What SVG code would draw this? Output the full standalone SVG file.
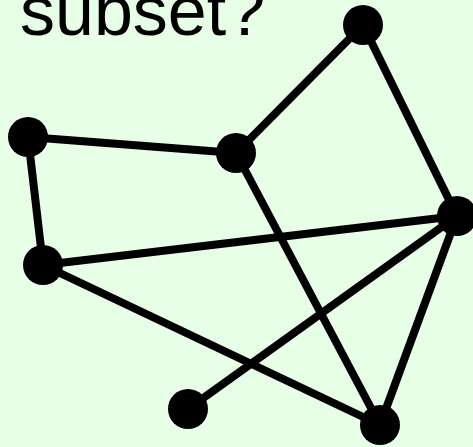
<svg xmlns="http://www.w3.org/2000/svg" width="473" height="447" viewBox="0 0 473 447">
<style>
.e{stroke:#000;stroke-width:8;stroke-linecap:round;fill:none}
.n{fill:#000}
.t{font-family:"Liberation Sans",Arial,sans-serif;font-size:70px;fill:#000}
</style>
<rect width="473" height="447" fill="#e6ffe6"/>
<text class="t" x="20" y="35">subset?</text>
<g id="edges">
<line class="e" x1="28" y1="137" x2="236" y2="153"/>
<line class="e" x1="236" y1="153" x2="363" y2="25"/>
<line class="e" x1="363" y1="25" x2="457" y2="216"/>
<line class="e" x1="28" y1="137" x2="43" y2="265"/>
<line class="e" x1="43" y1="265" x2="457" y2="216"/>
<line class="e" x1="236" y1="153" x2="380" y2="425"/>
<line class="e" x1="43" y1="265" x2="380" y2="425"/>
<line class="e" x1="457" y1="216" x2="380" y2="425"/>
<line class="e" x1="457" y1="216" x2="188" y2="409"/>
</g>
<g id="n1"><circle class="n" cx="363" cy="25" r="20"/></g>
<g id="n2"><circle class="n" cx="28" cy="137" r="20"/></g>
<g id="n3"><circle class="n" cx="236" cy="153" r="20"/></g>
<g id="n4"><circle class="n" cx="43" cy="265" r="20"/></g>
<g id="n5"><circle class="n" cx="457" cy="216" r="20"/></g>
<g id="n6"><circle class="n" cx="188" cy="409" r="20"/></g>
<g id="n7"><circle class="n" cx="380" cy="425" r="20"/></g>
</svg>
